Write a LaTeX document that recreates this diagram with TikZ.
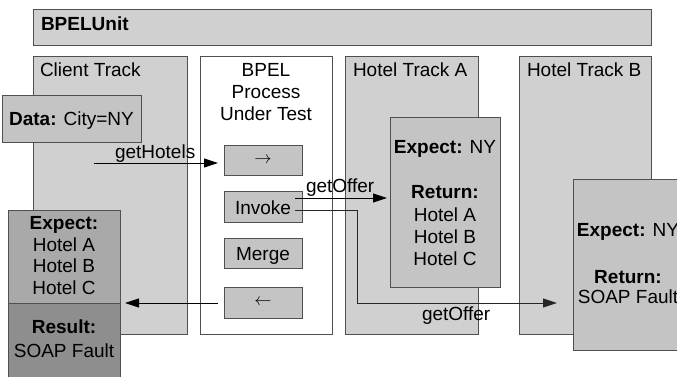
\documentclass[tikz,border=0pt]{standalone}
\usepackage{fontspec}
\setmainfont{Liberation Sans}
\usetikzlibrary{arrows.meta}
\definecolor{edge}{HTML}{505050}
\definecolor{trackfill}{HTML}{D0D0D0}
\definecolor{stepfill}{HTML}{C4C4C4}
\definecolor{expectfill}{HTML}{A9A9A9}
\definecolor{resultfill}{HTML}{8E8E8E}
\begin{document}
\begin{tikzpicture}[x=1pt,y=-1pt,
  font=\fontsize{19}{22}\selectfont,
  frame/.style={draw=edge,line width=0.9pt,inner sep=0pt,outer sep=0pt,anchor=north west},
  track/.style={frame,fill=trackfill},
  stepbox/.style={frame,fill=stepfill},
  txt/.style={inner sep=0pt,outer sep=0pt,anchor=base west},
  ctxt/.style={inner sep=0pt,outer sep=0pt,anchor=base},
  flow/.style={draw=black,line width=0.8pt,-{Triangle[length=14pt,width=9pt]}}
]
\useasboundingbox (0,0) rectangle (677,376);

% framework banner
\node[track,minimum width=618pt,minimum height=36pt] (unit) at (33,9) {};
\node[txt] (unitlbl) at (41,30) {\textbf{BPELUnit}};

% tracks and the process under test
\node[track,minimum width=154pt,minimum height=278pt] (client) at (33,56) {};
\node[frame,fill=white,minimum width=132pt,minimum height=278pt] (proc) at (200,56) {};
\node[track,minimum width=133pt,minimum height=278pt] (hotelA) at (345,56) {};
\node[track,minimum width=132pt,minimum height=278pt] (hotelB) at (519,56) {};

\node[txt] (clientlbl) at (40,76) {Client Track};
\node[ctxt] (proclbl1) at (266,76) {BPEL};
\node[ctxt] (proclbl2) at (266,98) {Process};
\node[ctxt] (proclbl3) at (266,120) {Under Test};
\node[txt] (hotelAlbl) at (353,76) {Hotel Track A};
\node[txt] (hotelBlbl) at (527,76) {Hotel Track B};

% client data
\node[stepbox,minimum width=139pt,minimum height=47pt] (data) at (2,95) {};
\node[ctxt] (datalbl) at (71.5,125) {\textbf{Data:} City=NY};

% process activities
\node[stepbox,minimum width=78pt,minimum height=30pt] (recv) at (224,145) {};
\node at (recv.center) {$\rightarrow$};
\node[stepbox,minimum width=78pt,minimum height=31pt] (invoke) at (224,191) {};
\node[ctxt] (invokelbl) at (263,214) {Invoke};
\node[stepbox,minimum width=78pt,minimum height=30pt] (merge) at (224,238) {};
\node[ctxt] (mergelbl) at (263,260) {Merge};
\node[stepbox,minimum width=78pt,minimum height=31pt] (reply) at (224,287) {};
\node at (reply.center) {$\leftarrow$};

% client expectation and result
\node[frame,fill=resultfill,minimum width=112pt,minimum height=90pt] (result) at (8,303) {};
\node[frame,fill=expectfill,minimum width=112pt,minimum height=93pt] (expect) at (8,210) {};
\node[ctxt] (ex1) at (64,229) {\textbf{Expect:}};
\node[ctxt] (ex2) at (64,251) {Hotel A};
\node[ctxt] (ex3) at (64,272) {Hotel B};
\node[ctxt] (ex4) at (64,294) {Hotel C};
\node[ctxt] (res1) at (64,333) {\textbf{Result:}};
\node[ctxt] (res2) at (64,357) {SOAP Fault};

% hotel A partner
\node[stepbox,minimum width=110pt,minimum height=170pt] (partA) at (390,117) {};
\node[ctxt] (pa1) at (445,153) {\textbf{Expect:} NY};
\node[ctxt] (pa2) at (445,198) {\textbf{Return:}};
\node[ctxt] (pa3) at (445,221) {Hotel A};
\node[ctxt] (pa4) at (445,243) {Hotel B};
\node[ctxt] (pa5) at (445,265) {Hotel C};

% hotel B partner
\node[stepbox,minimum width=110pt,minimum height=171pt] (partB) at (573,179) {};
\node[ctxt] (pb1) at (628,236) {\textbf{Expect:} NY};
\node[ctxt] (pb2) at (628,283) {\textbf{Return:}};
\node[ctxt] (pb3) at (628,303) {SOAP Fault};

% message flows
\coordinate (callIn) at (94,163);
\coordinate (offA) at (295,198);
\coordinate (offB) at (295,210);
\coordinate (bend) at (357,303);
\draw[flow,shorten >=6pt] (callIn) -- (callIn -| recv.west);
\node[txt] (getHotels) at (115,158) {getHotels};
\draw[flow,shorten <=6pt,shorten >=5pt] (reply.west |- 0,303) -- (expect.south east);
\draw[flow,shorten >=3pt] (offA) -- (offA -| partA.west);
\node[txt] (offerA) at (306,192) {getOffer};
\draw[flow,draw=black!85,shorten >=16pt] (offB) -| (bend) -- (bend -| partB.west);
\node[txt] (offerB) at (422,320) {getOffer};
\end{tikzpicture}
\end{document}
